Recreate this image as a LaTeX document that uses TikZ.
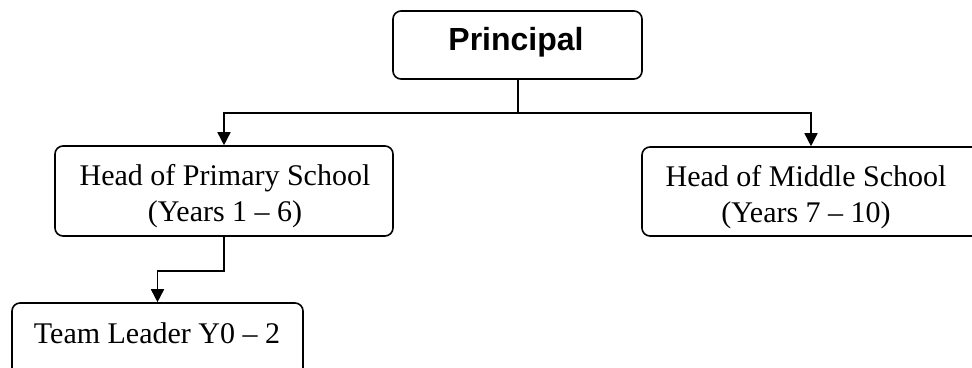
\documentclass[tikz,border=0pt]{standalone}
\usepackage{fontspec}
\setmainfont{Liberation Serif}
\newfontfamily\arialfont{Liberation Sans}
\usetikzlibrary{arrows.meta}
\begin{document}
\begin{tikzpicture}[x=1pt,y=-1pt,
  box/.style={draw=black,line width=1.6pt,rounded corners=8pt,inner sep=0pt,fill=white},
  txt/.style={anchor=base,inner sep=0pt,font=\fontsize{30}{36}\selectfont},
  conn/.style={line width=1.6pt},
  arr/.style={conn,-{Triangle[length=13pt,width=13pt]}}]
\clip (0,0) rectangle (972,367);
\fill[white] (0,0) rectangle (972,367);
% boxes
\node[box,minimum width=249pt,minimum height=68pt] (P) at (517.5,45) {};
\node[box,minimum width=338pt,minimum height=90pt] (ps) at (224,191) {};
\node[box,minimum width=338pt,minimum height=89pt] (ms) at (811,191.5) {};
\node[box,minimum width=291pt,minimum height=75pt] (tl) at (157.5,340.5) {};
% texts
\node[anchor=base,inner sep=0pt,font=\arialfont\bfseries\fontsize{32}{36}\selectfont] (Pt) at (516,50) {Principal};
\node[txt] (ps1) at (225,185) {Head of Primary School};
\node[txt] (ps2) at (225,221) {(Years 1 -- 6)};
\node[txt] (ms1) at (806,186) {Head of Middle School};
\node[txt] (ms2) at (806,222) {(Years 7 -- 10)};
\node[txt] (tlt) at (157,343) {Team Leader Y0 -- 2};
% connectors
\coordinate (j) at (518,113);
\draw[conn] (P.south -| j) -- (j);
\draw[arr] (j) -| (ps.north);
\draw[arr] (j) -| (ms.north);
\draw[arr] (ps.south) -- ++(0,34) -| (tl.north);
\end{tikzpicture}
\end{document}
